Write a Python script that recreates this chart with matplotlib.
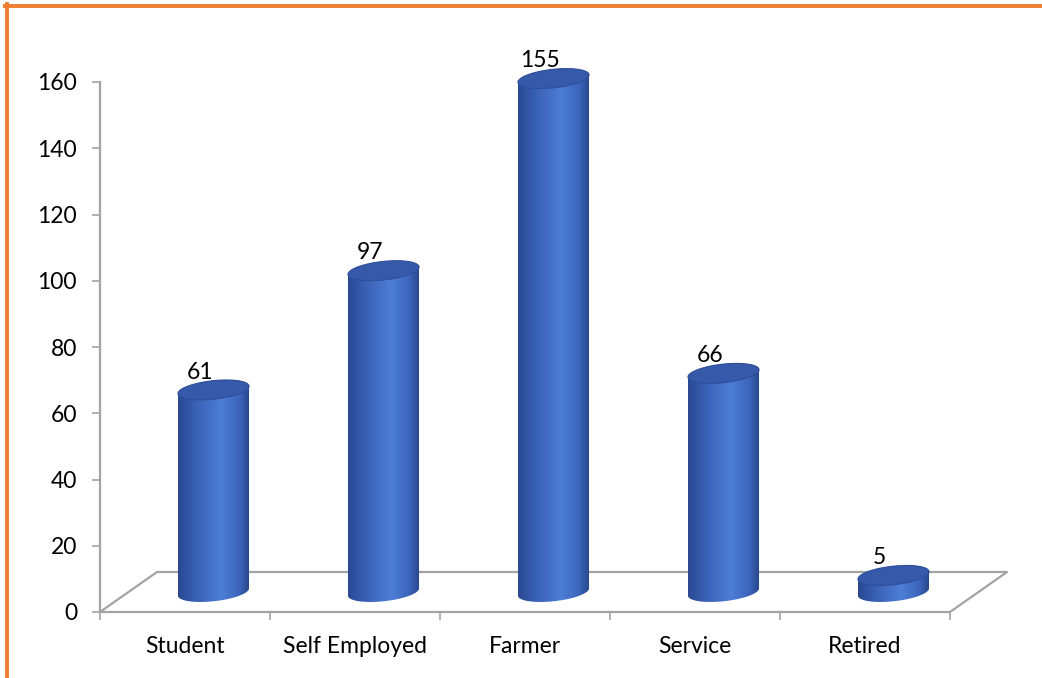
import matplotlib.pyplot as plt
import numpy as np
from matplotlib.colors import LinearSegmentedColormap
from matplotlib.lines import Line2D
from matplotlib.patches import Polygon

categories = ['Student', 'Self Employed', 'Farmer', 'Service', 'Retired']
counts = [61, 97, 155, 66, 5]
y_ticks = [0, 20, 40, 60, 80, 100, 120, 140, 160]

plt.rcParams['font.family'] = ['Lato', 'DejaVu Sans']

W, H = 1042, 678
fig = plt.figure(figsize=(W / 100, H / 100), dpi=100)

# value axis: 160 units over 530 px, 170 px per category
px_per_unit = 530 / 160
ymax = 180
xmax = 5.5
ax = fig.add_axes([100 / W, 66 / H, xmax * 170 / W, ymax * px_per_unit / H])

# floor depth (back edge is shifted right and up)
dx = 57 / 170
dy = 40 / px_per_unit

gray = '#a3a3a3'
n = len(categories)
ax.plot([0, dx, n + dx, n], [0, dy, dy, 0], color=gray, lw=1.6, zorder=1)

# cylinder geometry
a = 0.209      # half width (category units)
b = 2.8        # half height of the end ellipses (value units)
c = 1.1        # tilt of the ellipses

cyl_cmap = LinearSegmentedColormap.from_list(
    'cyl', [(0.0, '#2a4991'), (0.25, '#3961b6'), (0.6, '#4d7dd5'),
            (0.85, '#3c66bc'), (1.0, '#27458a')])


def ellipse(cx, cy, t):
    return np.column_stack([cx + a * np.cos(t), cy + b * np.sin(t) + c * np.cos(t)])


for i, v in enumerate(counts):
    cx = i + 0.5 + dx / 2
    y0 = dy / 2
    y1 = v + dy / 2
    front = ellipse(cx, y0, np.linspace(np.pi, 2 * np.pi, 60))
    back = ellipse(cx, y1, np.linspace(0, np.pi, 60))
    body = Polygon(np.vstack([front, back]), closed=True, transform=ax.transData)
    grad = np.linspace(0, 1, 256).reshape(1, -1)
    im = ax.imshow(grad, cmap=cyl_cmap, aspect='auto', zorder=2,
                   extent=[cx - a, cx + a, y0 - b - c - 1, y1 + b + c + 1])
    im.set_clip_path(body)
    cap = Polygon(ellipse(cx, y1, np.linspace(0, 2 * np.pi, 120)), closed=True,
                  facecolor='#3659aa', edgecolor='#2e4f9a', lw=0.8, zorder=3)
    ax.add_patch(cap)
    ax.text(cx - 0.08, y1 + b - 0.6, str(v), ha='center', va='bottom',
            fontsize=16.5, color='black', zorder=4)

ax.set_xlim(0, xmax)
ax.set_ylim(0, ymax)

for side in ['top', 'right']:
    ax.spines[side].set_visible(False)
for side in ['left', 'bottom']:
    ax.spines[side].set_color(gray)
    ax.spines[side].set_linewidth(1.6)
ax.spines['left'].set_bounds(0, 160)
ax.spines['bottom'].set_bounds(0, n)

ax.set_yticks(y_ticks)
ax.tick_params(axis='y', length=5.5, width=1.2, color=gray, pad=11,
               labelsize=16.5)
ax.set_xticks(np.arange(n) + 0.5, categories)
ax.set_xticks(np.arange(n + 1), minor=True)
ax.tick_params(axis='x', which='major', length=0, pad=17, labelsize=16.5)
ax.tick_params(axis='x', which='minor', length=6, width=1.2, color=gray)
ax.patch.set_visible(False)

# orange frame on top and left
orange = '#ed7d31'
fig.add_artist(Line2D([7 / W, 7 / W], [0, 1 - 4 / H], color=orange, lw=2.8,
                      transform=fig.transFigure))
fig.add_artist(Line2D([5 / W, 1], [1 - 6 / H, 1 - 6 / H], color=orange, lw=2.8,
                      transform=fig.transFigure))

fig.savefig('out.png', dpi=100)
